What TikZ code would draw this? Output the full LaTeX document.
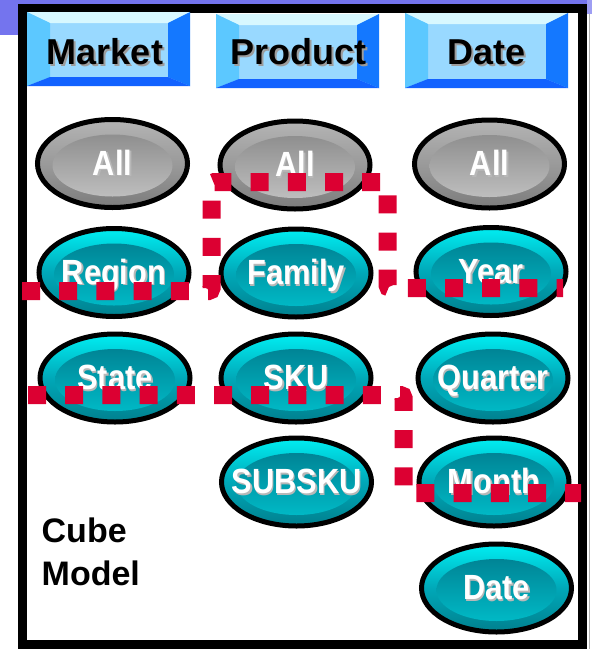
\documentclass[tikz,border=0pt]{standalone}
\usepackage{fontspec}
\setmainfont{Liberation Sans}
\usepackage{graphicx}
\usetikzlibrary{shapes.geometric}

\definecolor{slideblue}{HTML}{7474EE}
\definecolor{bevtop}{HTML}{D8F8FF}
\definecolor{bevleft}{HTML}{5CC8FF}
\definecolor{bevright}{HTML}{1478FF}
\definecolor{bevbottom}{HTML}{1262FF}
\definecolor{bevface}{HTML}{99D9FF}
\definecolor{cutred}{HTML}{DC0032}
\definecolor{tealtop}{HTML}{00EEF2}
\definecolor{tealmid}{HTML}{00A8B8}
\definecolor{tealbot}{HTML}{00808E}
\definecolor{tealintop}{HTML}{00788A}
\definecolor{tealinbot}{HTML}{00C2CE}
\definecolor{greytop}{HTML}{B4B4B4}
\definecolor{greymid}{HTML}{9A9A9A}
\definecolor{greybot}{HTML}{7C7C7C}
\definecolor{greyintop}{HTML}{848484}
\definecolor{greyinbot}{HTML}{C6C6C6}
\definecolor{headshadow}{HTML}{9C9C9C}
\definecolor{ovalshadow}{HTML}{B8B8B8}

% bevelled header button: x0, y0, x1, y1
\newcommand\bevelbutton[4]{%
  \fill[bevface] (#1,#2) rectangle (#3,#4);
  \fill[bevtop] (#1,#2) -- (#3,#2) -- (#3-22,#2+11) -- (#1+23,#2+11) -- cycle;
  \fill[bevleft] (#1,#2) -- (#1+23,#2+11) -- (#1+23,#4-9) -- (#1,#4) -- cycle;
  \fill[bevright] (#3,#2) -- (#3,#4) -- (#3-22,#4-9) -- (#3-22,#2+11) -- cycle;
  \fill[bevbottom] (#1,#4) -- (#3,#4) -- (#3-22,#4-9) -- (#1+23,#4-9) -- cycle;
}

% black header caption with a grey drop shadow
\newcommand\headcaption[1]{%
  \rlap{\kern2pt\raisebox{-2pt}{\color{headshadow}#1}}{\color{black}#1}}

% white oval caption with a light shadow, centred on the oval
\newcommand\ovalcaption[1]{%
  \makebox[0pt]{\raisebox{-11.5pt}[0pt][0pt]{\scalebox{0.88}[1]{%
    \rlap{\kern1.8pt\raisebox{-1.8pt}{\color{ovalshadow}#1}}{\color{white}#1}}}}}

\tikzset{
  oval/.style={ellipse, minimum width=150pt, minimum height=88pt,
    inner sep=0pt, draw=black, line width=5pt,
    font=\fontsize{35}{40}\selectfont\bfseries},
  tealoval/.style={oval, top color=tealtop, bottom color=tealbot,
    middle color=tealmid,
    path picture={\shade[top color=tealintop, bottom color=tealinbot]
      ([yshift=-2pt]path picture bounding box.center)
      ellipse [x radius=60pt, y radius=31pt];}},
  greyoval/.style={oval, top color=greytop, bottom color=greybot,
    middle color=greymid,
    path picture={\shade[top color=greyintop, bottom color=greyinbot]
      ([yshift=-2pt]path picture bounding box.center)
      ellipse [x radius=60pt, y radius=31pt];}},
  headtext/.style={anchor=base, inner sep=0pt,
    font=\fontsize{36}{40}\selectfont\bfseries},
  modeltext/.style={anchor=base west, inner sep=0pt,
    font=\fontsize{34}{40}\selectfont\bfseries},
  cutline/.style={draw=cutred, line width=18pt,
    dash pattern=on 18pt off 19.2pt, rounded corners=3pt},
}

\begin{document}
\begin{tikzpicture}[x=1pt,y=-1pt]
  \useasboundingbox (0,0) rectangle (592,649);
  \fill[white] (0,0) rectangle (592,649);

  % slide background strips
  \fill[slideblue] (0,0) rectangle (592,4);
  \fill[slideblue] (0,0) rectangle (20,35);
  \fill[slideblue!70!white] (587,0) rectangle (592,14);
  \draw[gray!60, line width=1pt] (589.5,14) -- (589.5,649);

  % outer frame
  \draw[black, line width=9pt] (22.5,8) rectangle (582.5,644.5);

  % dimension headers
  \bevelbutton{27}{12}{190}{86}
  \bevelbutton{216}{14}{379}{88}
  \bevelbutton{405}{13}{568}{88}
  \node[headtext] (market) at (105,64) {\headcaption{Market}};
  \node[headtext] (product) at (298,64) {\headcaption{Product}};
  \node[headtext] (date) at (487,64) {\headcaption{Date}};

  % Market hierarchy
  \node[greyoval] (mall) at (112.5,163.5) {\ovalcaption{All}};
  \node[tealoval] (region) at (114,272.5) {\ovalcaption{Region}};
  \node[tealoval] (state) at (115,378) {\ovalcaption{State}};

  % Product hierarchy
  \node[greyoval] (pall) at (295,165) {\ovalcaption{All}};
  \node[tealoval] (family) at (296,273) {\ovalcaption{Family}};
  \node[tealoval] (sku) at (296,378) {\ovalcaption{SKU}};
  \node[tealoval] (subsku) at (296.5,482) {\ovalcaption{SUBSKU}};

  % Date hierarchy
  \node[greyoval] (dall) at (489.5,164) {\ovalcaption{All}};
  \node[tealoval] (year) at (491,271.5) {\ovalcaption{Year}};
  \node[tealoval] (quarter) at (493,378) {\ovalcaption{Quarter}};
  \node[tealoval] (month) at (494,482) {\ovalcaption{Month}};
  \node[tealoval] (day) at (496.5,588) {\ovalcaption{Date}};

  % caption
  \node[modeltext] (cube) at (41.5,542) {Cube};
  \node[modeltext] (model) at (41.5,585) {Model};

  % aggregation cut lines
  \draw[cutline] (22,291) -- (211.5,291) -- (211.5,182) -- (387.5,182)
    -- (387.5,288) -- (563,288);
  \draw[cutline] (28,395) -- (403.5,395) -- (403.5,493) -- (581,493);
\end{tikzpicture}
\end{document}
